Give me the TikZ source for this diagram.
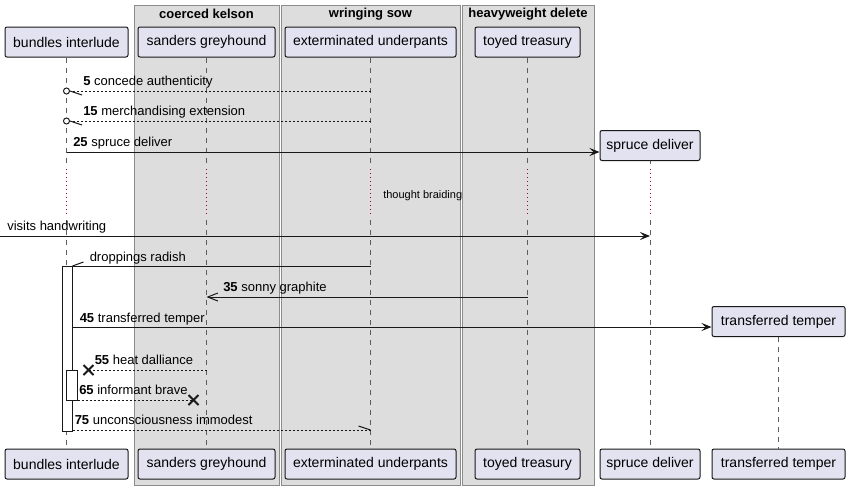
\documentclass[tikz,border=0pt]{standalone}
\usepackage{fontspec}
\setmainfont{Liberation Sans}
\usepackage{tikz}
\usetikzlibrary{calc,arrows.meta}
\definecolor{partfill}{HTML}{E2E2F0}
\definecolor{partline}{HTML}{181818}
\definecolor{groupfill}{HTML}{DDDDDD}
\definecolor{groupline}{HTML}{8C8C8C}
\definecolor{delayred}{HTML}{A80036}
\tikzset{
	part/.style={draw=partline, fill=partfill, rounded corners=1.5pt, line width=0.75pt, minimum height=30*0.75pt, minimum width=#1*0.75pt, inner sep=0pt, font=\fontsize{10.5}{12}\selectfont},
	lifeline/.style={draw=partline!70, line width=0.75pt, dash pattern=on 3.75pt off 3.75pt},
	delayline/.style={draw=delayred, line width=0.75pt, dash pattern=on 0.75pt off 2.25pt},
	msg/.style={draw=partline, line width=0.75pt},
	reply/.style={msg, dash pattern=on 1.5pt off 1.5pt},
	msglabel/.style={anchor=base west, inner sep=0pt, font=\fontsize{9.75}{11}\selectfont},
	grouptitle/.style={inner sep=0pt, font=\fontsize{9.75}{11}\selectfont\bfseries},
	actbox/.style={draw=partline, fill=white, line width=0.75pt, inner sep=0pt, minimum width=10*0.75pt},
	xmark/.style={draw=partline, line width=1.5pt},
	filledhead/.style={-{Stealth[length=7.5pt,width=6pt,inset=3pt]}},
	openhead/.style={-{Straight Barb[length=7.5pt,width=6pt]}},
}
\def\crossmark(#1){\draw[xmark] ($(#1)+(-5,-5)$) -- ($(#1)+(5,5)$); \draw[xmark] ($(#1)+(-5,5)$) -- ($(#1)+(5,-5)$);}

\begin{document}
\begin{tikzpicture}[x=0.75pt, y=-0.75pt]
			%%%%% START %%%%%
			\useasboundingbox (0,0) rectangle (849,489);
			
			% groups
			\draw[draw=groupline, fill=groupfill] (134,5) rectangle (279,485);
			\node[grouptitle] (gck) at (206.5,14) {coerced kelson};
			\draw[draw=groupline, fill=groupfill] (281,5) rectangle (460,485);
			\node[grouptitle] (gws) at (370.5,14) {wringing sow};
			\draw[draw=groupline, fill=groupfill] (462,5) rectangle (594,485);
			\node[grouptitle] (ghd) at (528,14) {heavyweight delete};
			
			% participants
			\node[part=123] (bi) at (66.5,42) {bundles interlude};
			\node[part=137] (sg) at (206.5,42) {sanders greyhound};
			\node[part=171] (eu) at (370.5,42) {exterminated underpants};
			\node[part=105] (tt) at (527.5,42) {toyed treasury};
			\node[part=100] (sd) at (650,145.5) {spruce deliver};
			\node[part=133] (tf) at (778.5,321.5) {transferred temper};
			
			\node[part=123] (bib) at (66.5,464) {bundles interlude};
			\node[part=137] (sgb) at (206.5,464) {sanders greyhound};
			\node[part=171] (eub) at (370.5,464) {exterminated underpants};
			\node[part=105] (ttb) at (527.5,464) {toyed treasury};
			\node[part=100] (sdb) at (650,464) {spruce deliver};
			\node[part=133] (tfb) at (778.5,464) {transferred temper};
			
			% rows
			\coordinate (r5) at (0,91);
			\coordinate (r15) at (0,121);
			\coordinate (r25) at (0,152);
			\coordinate (da) at (0,164);
			\coordinate (db) at (0,169);
			\coordinate (dc) at (0,215);
			\coordinate (dd) at (0,220);
			\coordinate (lft) at (0,236);
			\coordinate (rdr) at (0,266);
			\coordinate (r35) at (0,297);
			\coordinate (r45) at (0,327);
			\coordinate (r55) at (0,370);
			\coordinate (r65) at (0,400);
			\coordinate (r75) at (0,430);
			
			% lifelines
			\draw[lifeline] (bi.south) -- (bi |- da);
			\draw[delayline] (bi |- db) -- (bi |- dc);
			\draw[lifeline] (bi |- dd) -- (bib.north);
			\draw[lifeline] (sg.south) -- (sg |- da);
			\draw[delayline] (sg |- db) -- (sg |- dc);
			\draw[lifeline] (sg |- dd) -- (sgb.north);
			\draw[lifeline] (eu.south) -- (eu |- da);
			\draw[delayline] (eu |- db) -- (eu |- dc);
			\draw[lifeline] (eu |- dd) -- (eub.north);
			\draw[lifeline] (tt.south) -- (tt |- da);
			\draw[delayline] (tt |- db) -- (tt |- dc);
			\draw[lifeline] (tt |- dd) -- (ttb.north);
			\draw[lifeline] (sd.south) -- (sd |- da);
			\draw[delayline] (sd |- db) -- (sd |- dc);
			\draw[lifeline] (sd |- dd) -- (sdb.north);
			\draw[lifeline] (tf.south) -- (tfb.north);
			
			\node[anchor=base west, inner sep=0pt, font=\fontsize{8.25}{10}\selectfont] (dtxt) at (383,198) {thought braiding};
			
			% activations
			\node[actbox, minimum height=165*0.75pt] (act1) at (67,348.5) {};
			\node[actbox, minimum width=11*0.75pt, minimum height=30*0.75pt] (act2) at (71.5,385) {};
			
			% messages
			\draw[reply] (eu |- r5) -- ($(bi |- r5)+(4,0)$);
			\draw[msg, fill=white] (bi |- r5) circle[radius=3];
			\draw[msg] ($(bi |- r5)+(3.5,0)$) -- ++(12,4);
			\node[msglabel] (l5) at ($(bi |- r5)+(16.5,-5.5)$) {\textbf{5} concede authenticity};
			
			\draw[reply] (eu |- r15) -- ($(bi |- r15)+(4,0)$);
			\draw[msg, fill=white] (bi |- r15) circle[radius=3];
			\draw[msg] ($(bi |- r15)+(3.5,0)$) -- ++(12,4);
			\node[msglabel] (l15) at ($(bi |- r15)+(16.5,-5.5)$) {\textbf{15} merchandising extension};
			
			\draw[msg, filledhead] (bi |- r25) -- (sd.west |- r25);
			\node[msglabel] (l25) at ($(bi |- r25)+(6.5,-5.5)$) {\textbf{25} spruce deliver};
			
			\draw[msg, filledhead] (lft) -- (sd |- lft);
			\node[msglabel] (lvh) at ($(lft)+(7,-5.5)$) {visits handwriting};
			
			\draw[msg] (eu |- rdr) -- (act1.east |- rdr);
			\draw[msg] (act1.east |- rdr) -- ++(11,-4);
			\node[msglabel] (ldr) at ($(act1.east |- rdr)+(17,-5)$) {droppings radish};
			
			\draw[msg, openhead] (tt |- r35) -- (sg |- r35);
			\node[msglabel] (l35) at ($(sg |- r35)+(16.5,-5.5)$) {\textbf{35} sonny graphite};
			
			\draw[msg, filledhead] (act1.east |- r45) -- (tf.west |- r45);
			\node[msglabel] (l45) at ($(act1.east |- r45)+(7,-5)$) {\textbf{45} transferred temper};
			
			\coordinate (x55) at ($(act1.east |- r55)+(16,0)$);
			\draw[reply] (sg |- r55) -- (x55);
			\crossmark(x55)
			\node[msglabel] (l55) at ($(x55)+(6,-5.5)$) {\textbf{55} heat dalliance};
			
			\coordinate (x65) at ($(sg |- r65)+(-13,0)$);
			\draw[reply] (act2.east |- r65) -- (x65);
			\crossmark(x65)
			\node[msglabel] (l65) at ($(act2.east |- r65)+(1.5,-5.5)$) {\textbf{65} informant brave};
			
			\draw[reply] (act1.east |- r75) -- (eu |- r75);
			\draw[msg] (eu |- r75) -- ++(-12,-4);
			\node[msglabel] (l75) at ($(act1.east |- r75)+(2,-5.5)$) {\textbf{75} unconsciousness immodest};
			
			%%%%% END %%%%%
\end{tikzpicture}
\end{document}
